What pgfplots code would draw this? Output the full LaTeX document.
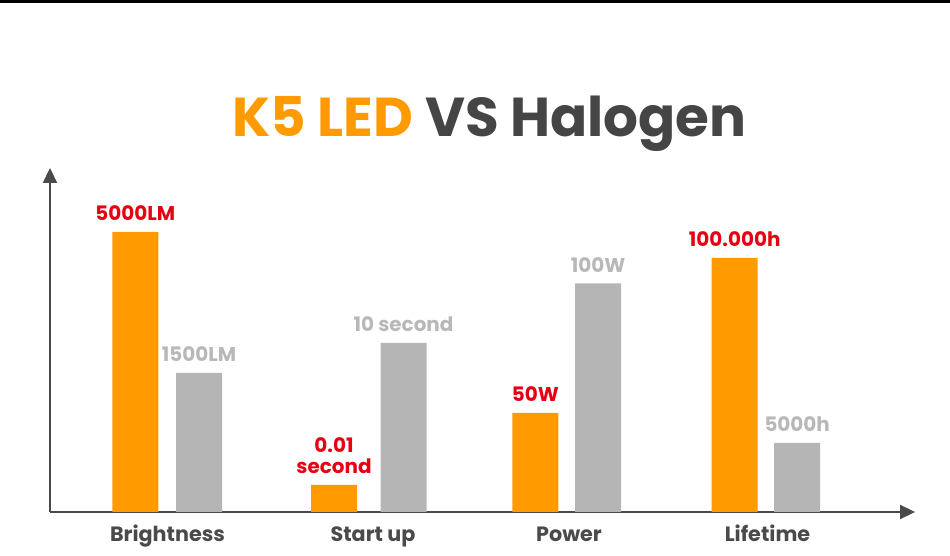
\documentclass[border=0pt]{standalone}
\usepackage{pgfplots}
\pgfplotsset{compat=1.18}
\usepackage{fontspec}
\setmainfont{Poppins}
\usetikzlibrary{arrows.meta}
\definecolor{barorange}{HTML}{FF9A00}
\definecolor{bargray}{HTML}{B5B5B5}
\definecolor{labred}{HTML}{E60012}
\definecolor{labgray}{HTML}{B8B8B8}
\definecolor{axgray}{HTML}{4A4A4A}
\definecolor{titlegray}{HTML}{454545}
\begin{document}
\begin{tikzpicture}
\path (0,0) rectangle (950bp,556bp);
\fill[black] (0,553.3bp) rectangle (950bp,556bp);
\node[anchor=base,inner sep=0pt,font=\bfseries\fontsize{55}{60}\selectfont] at (489.5bp,419bp)
  {\textcolor{barorange}{K5 LED} \textcolor{titlegray}{VS Halogen}};
\begin{axis}[
  at={(50bp,44bp)}, anchor=south west,
  scale only axis, width=865bp, height=344bp,
  xmin=50, xmax=915, ymin=0, ymax=344,
  axis lines=left,
  axis line style={axgray, line width=2.2bp, -{Triangle[width=14bp,length=15bp]}},
  ytick=\empty,
  xtick={167.5,373,569,767.5},
  xticklabels={Brightness,Start up,Power,Lifetime},
  major tick length=0pt,
  xticklabel style={anchor=base, yshift=-29bp, text=axgray, font=\bfseries\fontsize{20.8}{22}\selectfont},
  ybar, bar width=46, bar shift=0pt,
  clip=false,
  point meta=explicit symbolic,
  nodes near coords,
  nodes near coords style={anchor=south, inner sep=0pt, yshift=11bp, align=center, font=\bfseries\fontsize{20}{21}\selectfont},
]
% LED (orange) bars: x = bar centre, y = bar height
\addplot[fill=barorange, draw=none, every node near coord/.append style={text=labred}]
  coordinates {(135.3,280)[5000LM] (334,27)[{0.01\\second}] (535.3,99)[50W] (734.7,254)[100.000h]};
% Halogen (gray) bars
\addplot[fill=bargray, draw=none, every node near coord/.append style={text=labgray}]
  coordinates {(199,139)[1500LM] (403.5,169)[10 second] (598.2,228.5)[100W] (797.2,69)[5000h]};
\end{axis}
\end{tikzpicture}
\end{document}
